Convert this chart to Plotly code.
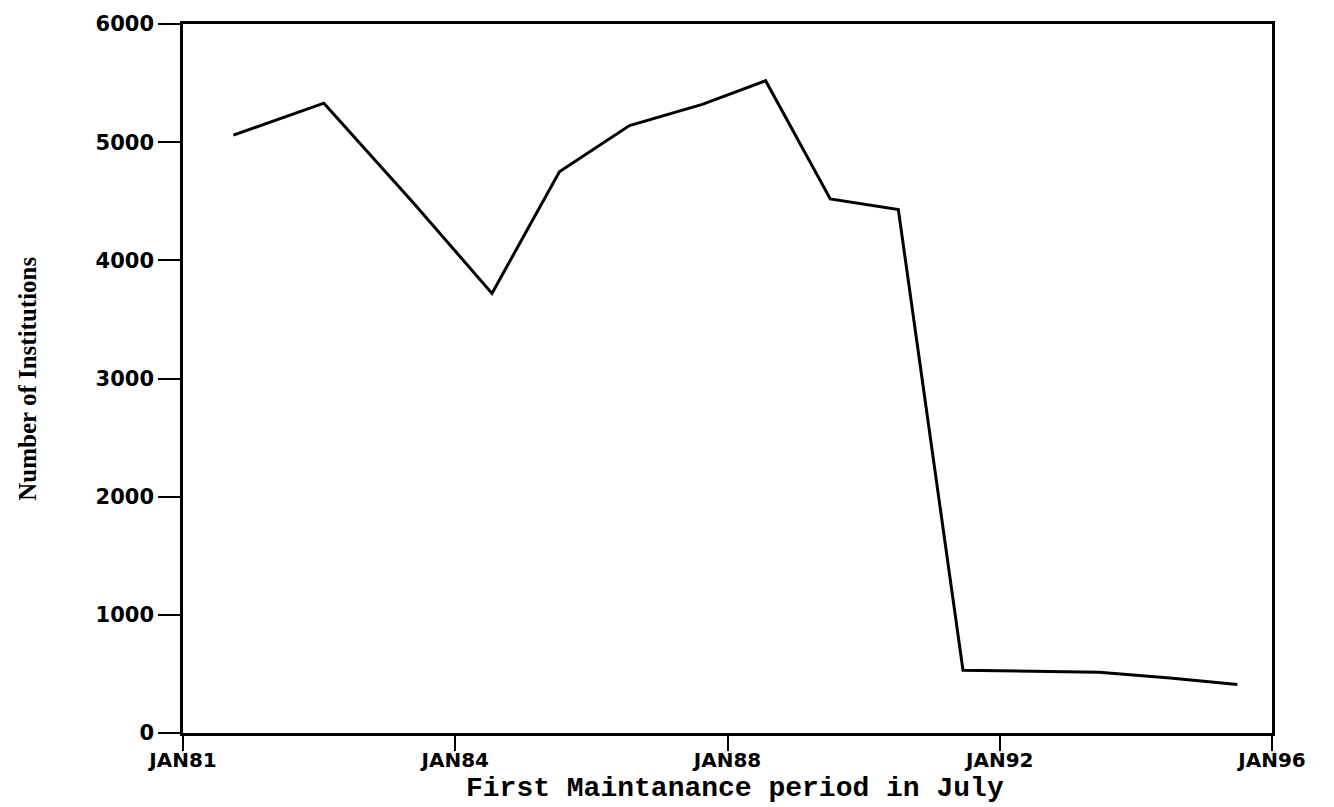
import plotly.graph_objects as go

# First maintenance period (decimal year) and number of reporting institutions
period_year = [1980.74, 1982.07, 1983.38, 1984.54, 1985.53, 1986.56, 1987.63,
               1988.56, 1989.51, 1990.51, 1991.46, 1992.50, 1993.46, 1994.50, 1995.49]
institutions = [5060, 5330, 4490, 3720, 4750, 5140, 5320,
                5520, 4520, 4430, 530, 525, 515, 465, 410]

tick_years = [1980, 1984, 1988, 1992, 1996]
tick_labels = ["JAN81", "JAN84", "JAN88", "JAN92", "JAN96"]
y_ticks = [0, 1000, 2000, 3000, 4000, 5000, 6000]

fig = go.Figure()
fig.add_trace(go.Scatter(
    x=period_year, y=institutions, mode="lines",
    line=dict(color="black", width=3),
    showlegend=False, hoverinfo="x+y",
))

axis_font = dict(family="DejaVu Sans", size=20, color="black")

fig.update_layout(
    width=1334, height=807,
    margin=dict(l=183, r=62, t=17, b=74),
    paper_bgcolor="white", plot_bgcolor="white",
    xaxis=dict(
        range=[1980, 1996], tickmode="array",
        tickvals=tick_years, ticktext=[f"<b>{t}</b>" for t in tick_labels],
        showgrid=False, zeroline=False,
        showline=True, linecolor="black", linewidth=2.5, mirror=True,
        ticks="outside", ticklen=15, tickwidth=2, tickcolor="black",
        ticklabelstandoff=-8,
        tickfont=axis_font,
    ),
    yaxis=dict(
        range=[0, 6000], tickmode="array", tickvals=y_ticks,
        ticktext=[f"<b>{v}</b>" for v in y_ticks],
        showgrid=False, zeroline=False,
        showline=True, linecolor="black", linewidth=2.5, mirror=True,
        ticks="outside", ticklen=22, tickwidth=2, tickcolor="black",
        tickfont=dict(family="DejaVu Sans", size=21, color="black"),
    ),
    annotations=[
        dict(text="<b>First Maintanance period in July</b>",
             xref="paper", yref="paper", x=0.507, y=-0.078,
             xanchor="center", yanchor="middle", showarrow=False,
             font=dict(family="Liberation Mono", size=28, color="black")),
        dict(text="<b>Number of Institutions</b>",
             xref="paper", yref="paper", x=-0.143, y=0.5,
             xanchor="center", yanchor="middle", textangle=-90, showarrow=False,
             font=dict(family="Liberation Serif", size=25, color="black")),
    ],
)

fig.write_html("out.html")
